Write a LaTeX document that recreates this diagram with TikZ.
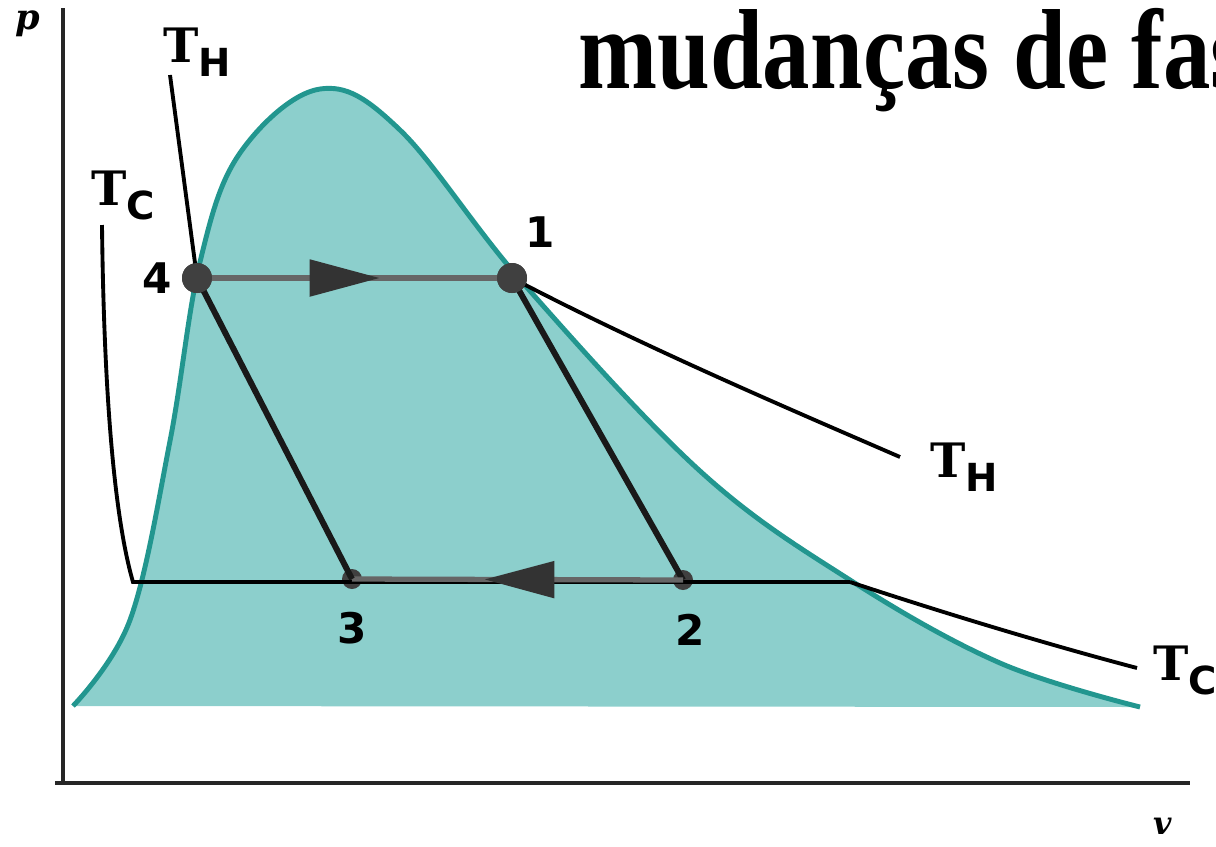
\documentclass[tikz,border=0pt]{standalone}
\usepackage{fontspec}
\setmainfont{Liberation Serif}
\newfontfamily\slabfont{DejaVu Serif}
\newfontfamily\numfont{DejaVu Sans}
\usetikzlibrary{arrows.meta,decorations.markings}
\definecolor{domefill}{HTML}{8CCFCC}
\definecolor{domeline}{HTML}{22968F}
\newcommand{\Tlab}[1]{{\slabfont\bfseries\fontsize{27}{27}\selectfont T}\raisebox{-8pt}{\numfont\bfseries\fontsize{22}{22}\selectfont #1}}

\begin{document}
\begin{tikzpicture}[x=0.02cm,y=-0.02cm,
  axis/.style={line width=2.2pt,black!85},
  dome/.style={draw=domeline,fill=domefill,line width=2.8pt},
  iso/.style={line width=2.2pt,black},
  leg/.style={line width=3.4pt,black!90},
  hleg/.style={line width=3pt,black!60},
  state/.style={circle,fill=black!75,inner sep=0pt,minimum size=#1},
  num/.style={font=\numfont\bfseries\fontsize{24}{24}\selectfont},
  tl/.style={anchor=base west,inner sep=0pt},
  midarr/.style={postaction={decorate},decoration={markings,
    mark=at position #1 with {\arrow{Triangle[length=1.4cm,width=0.72cm,color=black!80]}}}}]
\useasboundingbox (0,0) rectangle (1216,846);
\clip (0,0) rectangle (1216,846);
% axes
\coordinate (o) at (63,783);
\coordinate (ptop) at (63,8);
\coordinate (vend) at (1190,783);
\draw[axis] (ptop) -- (63,785);
\draw[axis] (55,783) -- (vend);
\node[font=\slabfont\bfseries\itshape\fontsize{20}{20}\selectfont] (plab) at (28,24) {p};
\node[font=\slabfont\bfseries\itshape\fontsize{18}{18}\selectfont] (vlab) at (1163,826) {v};
% two-phase dome
\draw[dome] plot[smooth,tension=0.6] coordinates {(73,706) (130,620) (170,441) (200,262)
  (240,153) (320,89) (400,130) (523,283) (700,471) (850,580) (1000,663) (1140,707)};
% states
\node[state=0.6cm] (s4) at (197,278) {};
\node[state=0.6cm] (s1) at (512,278) {};
\node[state=0.4cm] (s2) at (683,580) {};
\node[state=0.4cm] (s3) at (352,579) {};
% isotherms
\coordinate (thA) at (170,75);
\coordinate (thB) at (900,457);
\coordinate (tcA) at (102,225);
\coordinate (tcL) at (133,582);
\coordinate (tcR) at (850,582);
\coordinate (tcB) at (1137,668);
\draw[iso] (thA) -- (s4.center);
\draw[iso] (s1.center) .. controls (640,345) and (780,405) .. (thB);
\draw[iso] (tcA) .. controls (104,400) and (115,520) .. (tcL) -- (tcR);
\draw[iso] (tcR) .. controls (950,615) and (1050,645) .. (tcB);
% cycle
\draw[hleg,midarr=0.58] (s4.center) -- (s1.center);
\draw[leg] (s1.center) -- (s2.center);
\draw[hleg,midarr=0.60] (s2.center) -- (s3.center);
\draw[leg] (s3.center) -- (s4.center);
\node[state=0.6cm] at (s4) {};
\node[state=0.6cm] at (s1) {};
\node[num] (n1) at (540,232) {1};
\node[num] (n2) at (690,630) {2};
\node[num] (n3) at (352,628) {3};
\node[num] (n4) at (157,278) {4};
\node[tl] (th1) at (163,62) {\Tlab{H}};
\node[tl] (tc1) at (91,205) {\Tlab{C}};
\node[tl] (th2) at (930,477) {\Tlab{H}};
\node[tl] (tc2) at (1153,680) {\Tlab{C}};
\node[anchor=base west,inner sep=0pt,font=\bfseries\fontsize{54}{54}\selectfont] (title) at (578,88) {\scalebox{1}[1.2]{mudanças de fas}};
\end{tikzpicture}
\end{document}
